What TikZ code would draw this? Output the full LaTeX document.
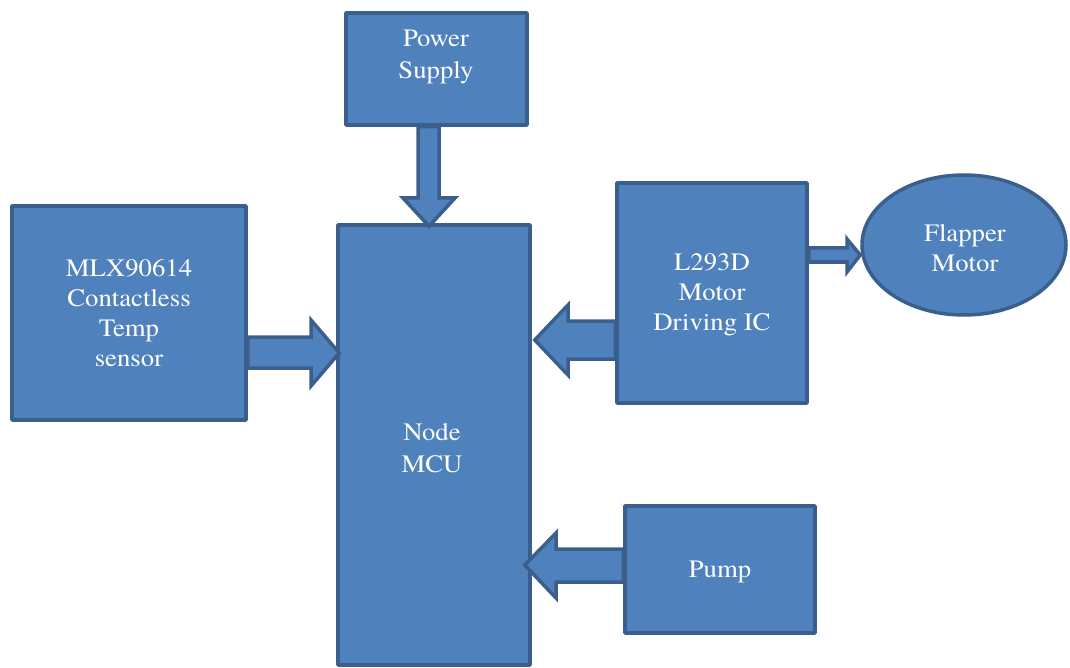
\documentclass[tikz,border=0pt]{standalone}
\usepackage{fontspec}
\setmainfont{texgyretermes}[Extension=.otf, UprightFont=*-regular, BoldFont=*-bold, ItalicFont=*-italic, BoldItalicFont=*-bolditalic, FakeStretch=1.07]
\usetikzlibrary{shapes.geometric,calc}
\definecolor{boxfill}{HTML}{4F81BD}
\definecolor{boxline}{HTML}{3A5F8C}
\pgfdeclarelayer{bot}
\pgfdeclarelayer{mid}
\pgfsetlayers{bot,mid,main}
\tikzset{
  blk/.style={draw=boxline, fill=boxfill, line width=3.5pt, line join=round, inner sep=0pt},
  oval/.style={blk, ellipse},
  barrow/.style={draw=boxline, fill=boxfill, line width=3.5pt, line join=miter, miter limit=10},
  txt/.style={text=white, align=center, font=\fontsize{25}{30}\selectfont, inner sep=0pt}
}
\begin{document}
\begin{tikzpicture}[x=1pt,y=-1pt]
\useasboundingbox (0,0) rectangle (1070,668);
% Node MCU (bottom layer)
\begin{pgfonlayer}{bot}
\node[blk, minimum width=192pt, minimum height=440pt] (mcu) at (434,445) {};
\end{pgfonlayer}
\node[txt, font=\fontsize{25}{32}\selectfont] (mcul) at (432,448) {Node\\MCU};
% source boxes
\node[blk, minimum width=181pt, minimum height=112pt] (ps) at (436.5,69) {};
\node[txt, font=\fontsize{25}{32}\selectfont] (psl) at (436,57) {Power\\Supply};
\node[blk, minimum width=234pt, minimum height=214pt, txt] (mlx) at (129,313) {MLX90614\\Contactless\\Temp\\sensor};
\node[blk, minimum width=190pt, minimum height=220pt] (drv) at (712,293) {};
\node[txt] (drvl) at (712,295) {L293D\\Motor\\Driving IC};
\node[blk, minimum width=190pt, minimum height=127pt] (pump) at (720,569.5) {};
\node[txt] (pumpl) at (720,572) {Pump};
\node[oval, minimum width=204pt, minimum height=140pt] (flap) at (964,245) {};
\node[txt] (flapl) at (965,248) {Flapper\\Motor};
% block arrows
\begin{pgfonlayer}{mid}
\draw[barrow] (ps.south -| 418,0) -- (418,198) -- (403,198) -- ([yshift=-3pt]mcu.north -| 429,0) -- (455,198) -- (439,198) -- (ps.south -| 439,0) -- cycle;
\draw[barrow] (mlx.east |- 0,337) -- (311,337) -- (311,320) -- ([xshift=3pt]mcu.west |- 0,353) -- (311,386) -- (311,368) -- (mlx.east |- 0,368) -- cycle;
\draw[barrow] (drv.west |- 0,321) -- (568,321) -- (568,305) -- ([xshift=3pt]mcu.east |- 0,340) -- (568,375) -- (568,359) -- (drv.west |- 0,359) -- cycle;
\draw[barrow] (pump.west |- 0,549) -- (556,549) -- (556,533) -- ([xshift=-7pt]mcu.east |- 0,565) -- (556,598) -- (556,582) -- (pump.west |- 0,582) -- cycle;
\draw[barrow] (drv.east |- 0,248) -- (847,248) -- (847,239) -- (flap.west |- 0,255) -- (847,272) -- (847,262) -- (drv.east |- 0,262) -- cycle;
\end{pgfonlayer}
\end{tikzpicture}
\end{document}
